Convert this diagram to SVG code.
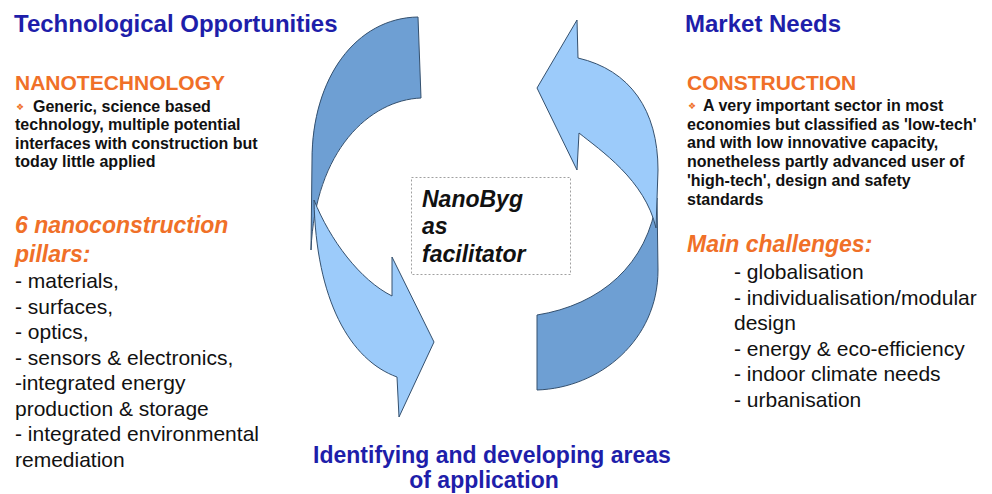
<svg xmlns="http://www.w3.org/2000/svg" width="992" height="494" viewBox="0 0 992 494">
  <style>
    text { font-family: "Liberation Sans", Arial, sans-serif; }
    .title { font-size: 24px; font-weight: bold; fill: #1e1eaa; }
    .head { font-size: 21px; font-weight: bold; fill: #f07028; }
    .headi { font-size: 23px; font-weight: bold; font-style: italic; fill: #f07028; }
    .body { font-size: 16px; font-weight: bold; fill: #111; }
    .list { font-size: 21px; fill: #111; }
    .bul { font-family: "DejaVu Sans", sans-serif; font-size: 9px; fill: #f07028; }
    .center { font-size: 23px; font-weight: bold; font-style: italic; fill: #111; }
    .bottom { font-size: 23px; font-weight: bold; fill: #1e1eaa; text-anchor: middle; }
    .dark { fill: #6e9fd3; stroke: #34506e; stroke-width: 1; }
    .light { fill: #9ccbfa; stroke: #34506e; stroke-width: 1; }
  </style>

  <rect width="992" height="494" fill="#ffffff"/>

  <g id="connectors">
    <path class="dark" d="M418,17 L421,98 C370,100 315,150 311,250 L312,160 C312,78 356,18 418,17 Z"/>
    <path class="light" d="M314,200 C330,240 360,280 392,296 L392,257 L434,342 L399,417 L397,377 C350,360 316,300 314,200 Z"/>
    <path class="dark" d="M657,198 L658,270 C658,340 600,388 537,390 L537,315 C600,305 648,265 657,198 Z"/>
    <path class="light" d="M578,58 L577,20 L537,88 L577,170 L579,133 C600,150 645,180 656,228 L658,170 C658,110 630,70 578,58 Z"/>
  </g>

  <g id="tech-opportunities">
    <text class="title" x="14" y="32">Technological Opportunities</text>
    <text class="head" x="15" y="90">NANOTECHNOLOGY</text>
    <text class="bul" x="16" y="110">❖</text>
    <text class="body" x="33" y="112">Generic, science based</text>
    <text class="body" x="15" y="130">technology, multiple potential</text>
    <text class="body" x="15" y="149">interfaces with construction but</text>
    <text class="body" x="15" y="167">today little applied</text>
  </g>

  <g id="pillars">
    <text class="headi" x="15" y="233">6 nanoconstruction</text>
    <text class="headi" x="15" y="262">pillars:</text>
    <text class="list" x="15" y="288">- materials,</text>
    <text class="list" x="15" y="313.5">- surfaces,</text>
    <text class="list" x="15" y="339">- optics,</text>
    <text class="list" x="15" y="364.5">- sensors &amp; electronics,</text>
    <text class="list" x="15" y="390">-integrated energy</text>
    <text class="list" x="15" y="415.5">production &amp; storage</text>
    <text class="list" x="15" y="441">- integrated environmental</text>
    <text class="list" x="15" y="466.5">remediation</text>
  </g>

  <g id="market-needs">
    <text class="title" x="685" y="32">Market Needs</text>
    <text class="head" x="687" y="90">CONSTRUCTION</text>
    <text class="bul" x="688" y="109">❖</text>
    <text class="body" x="703" y="111">A very important sector in most</text>
    <text class="body" x="687" y="130">economies but classified as 'low-tech'</text>
    <text class="body" x="687" y="148">and with low innovative capacity,</text>
    <text class="body" x="687" y="167">nonetheless partly advanced user of</text>
    <text class="body" x="687" y="186">'high-tech', design and safety</text>
    <text class="body" x="687" y="205">standards</text>
  </g>

  <g id="challenges">
    <text class="headi" x="687" y="252">Main challenges:</text>
    <text class="list" x="734" y="279">- globalisation</text>
    <text class="list" x="734" y="304.5">- individualisation/modular</text>
    <text class="list" x="734" y="330">design</text>
    <text class="list" x="734" y="355.5">- energy &amp; eco-efficiency</text>
    <text class="list" x="734" y="381">- indoor climate needs</text>
    <text class="list" x="734" y="406.5">- urbanisation</text>
  </g>

  <g id="facilitator">
    <rect x="411.5" y="177.5" width="159" height="97" fill="none" stroke="#a0a0a0" stroke-width="1" stroke-dasharray="2,2"/>
    <text class="center" x="422" y="207">NanoByg</text>
    <text class="center" x="422" y="234">as</text>
    <text class="center" x="422" y="262">facilitator</text>
  </g>

  <g id="application">
    <text class="bottom" x="492" y="463">Identifying and developing areas</text>
    <text class="bottom" x="484" y="488">of application</text>
  </g>
</svg>
